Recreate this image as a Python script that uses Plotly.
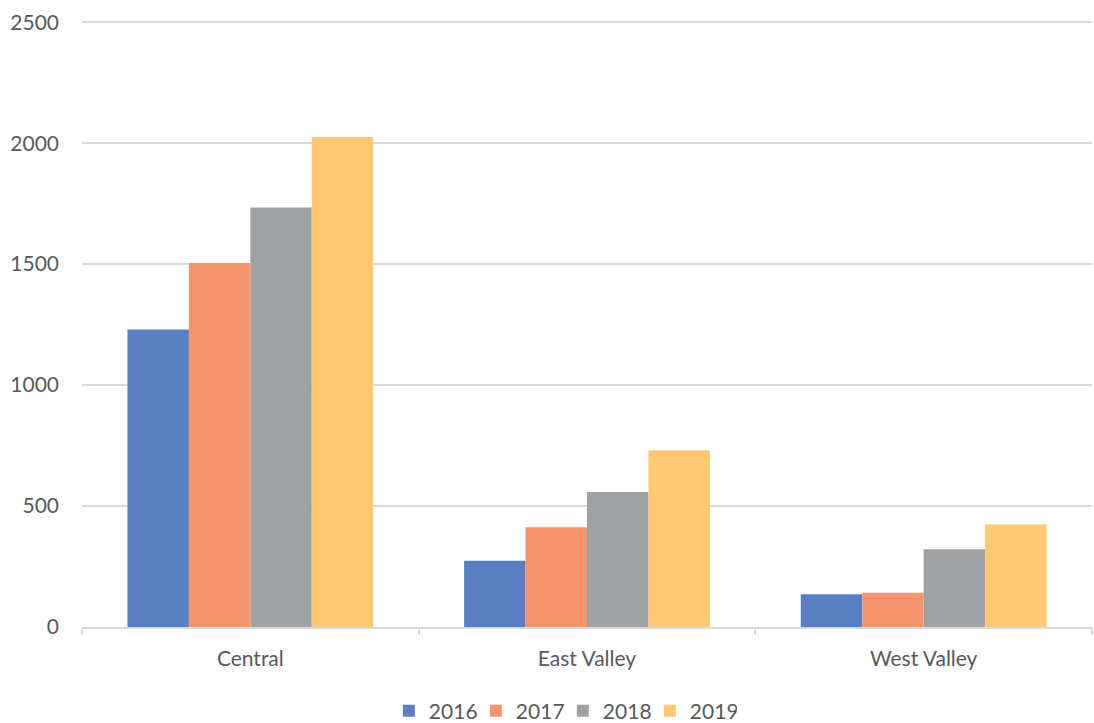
import plotly.graph_objects as go

categories = ["Central", "East Valley", "West Valley"]
years = ["2016", "2017", "2018", "2019"]
v2016 = [1230, 274, 135]
v2017 = [1505, 412, 142]
v2018 = [1734, 558, 321]
v2019 = [2026, 731, 424]
series = [v2016, v2017, v2018, v2019]
colors = ["#5B80C1", "#F79470", "#A0A1A3", "#FEC875"]

fig = go.Figure()
for name, vals, c in zip(years, series, colors):
    fig.add_trace(go.Bar(x=categories, y=vals, name=name, marker=dict(color=c, line=dict(width=0))))

font_family = "Lato, Open Sans, sans-serif"
fig.update_layout(
    width=1094, height=723,
    margin=dict(l=82, r=2, t=21, b=96, autoexpand=False),
    paper_bgcolor="white", plot_bgcolor="white",
    barmode="group", bargap=0.27, bargroupgap=0,
    font=dict(family=font_family, size=21, color="#595959"),
    legend=dict(orientation="h", x=0.5145, xanchor="center", xref="container",
                y=12 / 723, yanchor="middle", yref="container",
                entrywidth=42, entrywidthmode="pixels",
                font=dict(size=21, color="#595959"), itemwidth=30, traceorder="normal"),
    showlegend=True,
)
fig.update_yaxes(range=[0, 2505], tickvals=[0, 500, 1000, 1500, 2000, 2500], showgrid=True,
                 gridcolor="#D9D9D9", gridwidth=1.5, automargin=False,
                 zeroline=False, showline=False, ticks="", ticklabelstandoff=22,
                 tickfont=dict(size=21, color="#595959"))
fig.update_xaxes(showline=True, linecolor="#D9D9D9", linewidth=1.5, ticks="outside",
                 tickson="boundaries", ticklen=6, tickcolor="#D9D9D9", tickwidth=1.5,
                 showgrid=False, automargin=False,
                 tickfont=dict(size=21, color="#595959"), ticklabelstandoff=12)

fig.write_html("out.html", config={"displayModeBar": False})

with open("out.html", "r", encoding="utf-8") as f:
    html = f.read()
html = html.replace("<head>", "<head><style>html,body{margin:0;padding:0;overflow:hidden;}</style>", 1)
with open("out.html", "w", encoding="utf-8") as f:
    f.write(html)
